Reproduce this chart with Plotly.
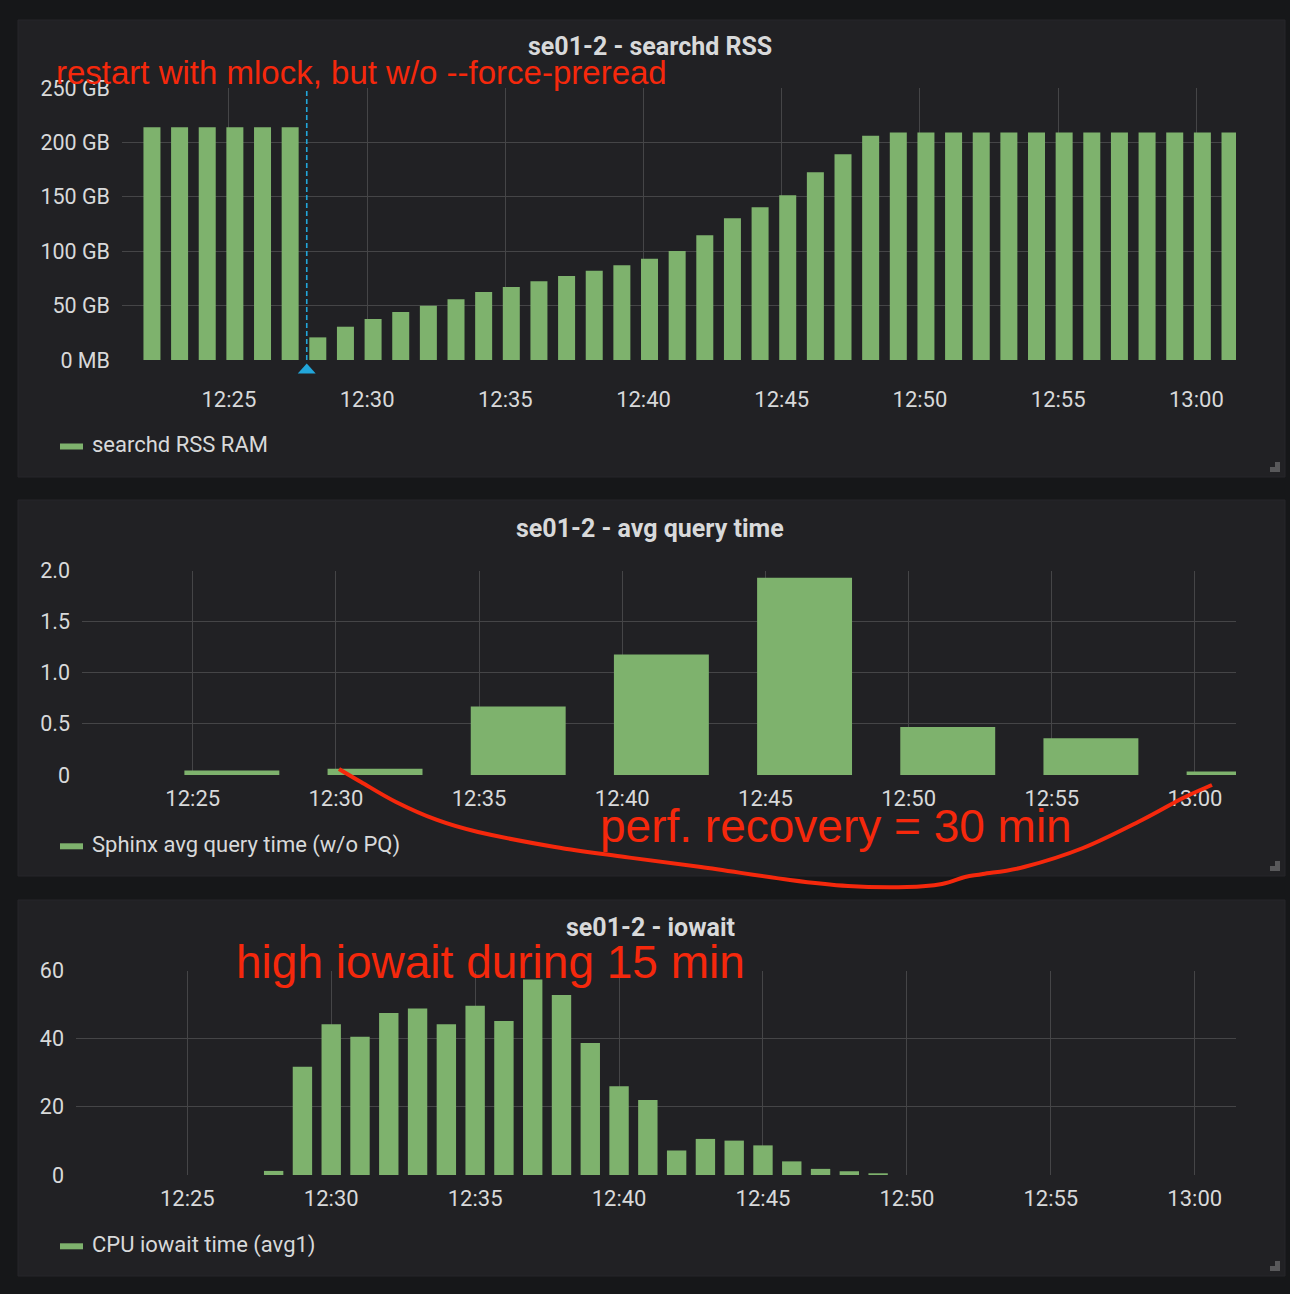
import datetime as dt
import plotly.graph_objects as go

W, H = 1290, 1294
DAY = "2018-03-01 "

# ---------------- data ----------------
RSS_TIMES = ["12:22:13", "12:23:13", "12:24:13", "12:25:13", "12:26:13", "12:27:13",
             "12:28:13", "12:29:13", "12:30:13", "12:31:13", "12:32:13", "12:33:13",
             "12:34:13", "12:35:13", "12:36:13", "12:37:13", "12:38:13", "12:39:13",
             "12:40:13", "12:41:13", "12:42:13", "12:43:13", "12:44:13", "12:45:13",
             "12:46:13", "12:47:13", "12:48:13", "12:49:13", "12:50:13", "12:51:13",
             "12:52:13", "12:53:13", "12:54:13", "12:55:13", "12:56:13", "12:57:13",
             "12:58:13", "12:59:13", "13:00:13", "13:01:13"]
RSS_GB = [214, 214, 214, 214, 214, 214,
          20.8, 30.6, 37.7, 44.1, 49.9, 55.8, 62.5, 67.1, 72.3, 77.2, 82.1, 87.0,
          93.1, 100.2, 114.6, 130.2, 140.3, 151.4, 172.5, 189.0, 206.2, 209.2,
          209.2, 209.2, 209.2, 209.2, 209.2, 209.2, 209.2, 209.2, 209.2, 209.2,
          209.2, 209.2]

QT_TIMES = ["12:26:22", "12:31:22", "12:36:22", "12:41:22", "12:46:22",
            "12:51:22", "12:56:22", "13:01:22"]
QT_SEC = [0.045, 0.06, 0.67, 1.18, 1.93, 0.47, 0.36, 0.035]

IO_TIMES = ["12:28:00", "12:29:00", "12:30:00", "12:31:00", "12:32:00", "12:33:00",
            "12:34:00", "12:35:00", "12:36:00", "12:37:00", "12:38:00", "12:39:00",
            "12:40:00", "12:41:00", "12:42:00", "12:43:00", "12:44:00", "12:45:00",
            "12:46:00", "12:47:00", "12:48:00", "12:49:00"]
IO_PCT = [1.2, 31.8, 44.3, 40.6, 47.6, 48.9, 44.3, 49.7, 45.2, 57.4, 52.9, 38.8,
          26.1, 22.0, 7.2, 10.6, 10.1, 8.7, 4.0, 1.8, 1.1, 0.5]

RESTART_TIME = "12:27:49"
X_RANGE = ["12:21:08", "13:01:26"]

RSS_TICKS = [0, 50, 100, 150, 200, 250]
RSS_TICKTEXT = ["0 MB", "50 GB", "100 GB", "150 GB", "200 GB", "250 GB"]
QT_TICKS = [0, 0.5, 1.0, 1.5, 2.0]
QT_TICKTEXT = ["0", "0.5", "1.0", "1.5", "2.0"]
IO_TICKS = [0, 20, 40, 60]
IO_TICKTEXT = ["0", "20", "40", "60"]

TITLES = ["se01-2 - searchd RSS", "se01-2 - avg query time", "se01-2 - iowait"]
LEGENDS = ["searchd RSS RAM", "Sphinx avg query time (w/o PQ)", "CPU iowait time (avg1)"]
NOTE_RESTART = "restart with mlock, but w/o --force-preread"
NOTE_PERF = "perf. recovery = 30 min"
NOTE_IO = "high iowait during 15 min"

# ---------------- style ----------------
PAGE_BG = "#161719"
PANEL_BG = "#212124"
GRID = "#454547"
TEXT = "#d8d9da"
GREEN = "#7eb26d"
BLUE = "#22a6da"
RED = "#f5280c"
FONT = "Roboto"
NOTE_FONT = "Liberation Sans, Arial, sans-serif"


def px(x):
    return x / W


def py(y):
    return 1 - y / H


fig = go.Figure()

fig.add_trace(go.Bar(x=[DAY + t for t in RSS_TIMES], y=RSS_GB, width=36900,
                     marker=dict(color=GREEN, line=dict(width=0)),
                     xaxis="x", yaxis="y", showlegend=False))
fig.add_trace(go.Bar(x=[DAY + t for t in QT_TIMES], y=QT_SEC, width=198900,
                     marker=dict(color=GREEN, line=dict(width=0)),
                     xaxis="x2", yaxis="y2", showlegend=False))
fig.add_trace(go.Bar(x=[DAY + t for t in IO_TIMES], y=IO_PCT, width=40400,
                     marker=dict(color=GREEN, line=dict(width=0)),
                     xaxis="x3", yaxis="y3", showlegend=False))

# plot-area geometry in pixels: (left, right, top, bottom)
AREAS = [(122, 1236, 88, 360), (82, 1236, 570.7, 775), (76, 1236, 970.7, 1175)]
YSPEC = [(RSS_TICKS, RSS_TICKTEXT, [0, 250]),
         (QT_TICKS, QT_TICKTEXT, [0, 2.0]),
         (IO_TICKS, IO_TICKTEXT, [0, 60])]
XSTANDOFF = [24, 8, 8]

layout = dict(width=W, height=H, margin=dict(l=0, r=0, t=0, b=0, autoexpand=False),
              paper_bgcolor=PAGE_BG, plot_bgcolor="rgba(0,0,0,0)",
              font=dict(family=FONT, color=TEXT, size=22), showlegend=False,
              barmode="overlay")

for i, ((l, r, t, b), (tv, tt, yr)) in enumerate(zip(AREAS, YSPEC)):
    sfx = "" if i == 0 else str(i + 1)
    layout["xaxis" + sfx] = dict(
        domain=[px(l), px(r)], anchor="y" + sfx, type="date",
        range=[DAY + X_RANGE[0], DAY + X_RANGE[1]],
        tick0=DAY + "12:00:00", dtick=300000, tickformat="%H:%M",
        showgrid=True, gridcolor=GRID, gridwidth=1, zeroline=False,
        showline=False, ticks="", ticklabelstandoff=XSTANDOFF[i], automargin=False,
        tickfont=dict(family=FONT, size=22, color=TEXT), fixedrange=True)
    layout["yaxis" + sfx] = dict(
        domain=[py(b), py(t)], anchor="x" + sfx, range=yr,
        tickvals=tv, ticktext=tt, showgrid=True, gridcolor=GRID, gridwidth=1,
        zeroline=False, showline=False, ticks="", ticklabelstandoff=11, automargin=False,
        tickfont=dict(family=FONT, size=21.5, color=TEXT), fixedrange=True)

fig.update_layout(**layout)

shapes = []
PANELS = [(18, 20, 1285, 477), (18, 500, 1285, 876), (18, 900, 1285, 1276)]
for (x0, y0, x1, y1) in PANELS:
    shapes.append(dict(type="rect", xref="paper", yref="paper", layer="below",
                       x0=px(x0), x1=px(x1), y0=py(y1), y1=py(y0),
                       fillcolor=PANEL_BG, line=dict(color="#27272a", width=1)))
    # resize handle
    shapes.append(dict(type="rect", xref="paper", yref="paper", layer="above",
                       x0=px(x1 - 15), x1=px(x1 - 5), y0=py(y1 - 5), y1=py(y1 - 10),
                       fillcolor="#58585a", line=dict(width=0)))
    shapes.append(dict(type="rect", xref="paper", yref="paper", layer="above",
                       x0=px(x1 - 10), x1=px(x1 - 5), y0=py(y1 - 5), y1=py(y1 - 15),
                       fillcolor="#58585a", line=dict(width=0)))

# restart annotation: dashed line + triangle marker under the axis
shapes.append(dict(type="line", xref="x", yref="y domain",
                   x0=DAY + RESTART_TIME, x1=DAY + RESTART_TIME, y0=0, y1=1,
                   line=dict(color=BLUE, width=1.6, dash="5px,3px"), layer="above"))
t_mark = dt.datetime.strptime(DAY + RESTART_TIME, "%Y-%m-%d %H:%M:%S")
half = dt.timedelta(seconds=19.5)


def dfmt(d):
    return d.strftime("%Y-%m-%d_%H:%M:%S.%f")


tri = "M %s,%.5f L %s,%.5f L %s,%.5f Z" % (
    dfmt(t_mark - half), py(373.5), dfmt(t_mark + half), py(373.5),
    dfmt(t_mark), py(363.5))
shapes.append(dict(type="path", xref="x", yref="paper", path=tri,
                   fillcolor=BLUE, line=dict(width=0), layer="above"))

# legend markers
LEG_Y = [446.5, 846.3, 1246.3]
for ly in LEG_Y:
    shapes.append(dict(type="rect", xref="paper", yref="paper",
                       x0=px(60), x1=px(83), y0=py(ly + 3), y1=py(ly - 3),
                       fillcolor=GREEN, line=dict(width=0)))

# hand-drawn red curve (pixel coordinates of the sketch)
CURVE = [(339, 769), (361, 782), (396, 802), (437, 820), (478, 832), (555, 847),
         (625, 857), (701, 867), (790, 880), (848, 886), (907, 887), (942, 884),
         (965, 877), (983, 874), (1024, 867), (1083, 848), (1142, 820),
         (1183, 798), (1212, 785)]
pts = [(px(x), py(y)) for x, y in CURVE]
path = "M %.5f,%.5f" % pts[0]
for k in range(len(pts) - 1):
    p0 = pts[k - 1] if k > 0 else pts[k]
    p1 = pts[k]
    p2 = pts[k + 1]
    p3 = pts[k + 2] if k + 2 < len(pts) else pts[k + 1]
    c1 = (p1[0] + (p2[0] - p0[0]) / 6, p1[1] + (p2[1] - p0[1]) / 6)
    c2 = (p2[0] - (p3[0] - p1[0]) / 6, p2[1] - (p3[1] - p1[1]) / 6)
    path += " C %.5f,%.5f %.5f,%.5f %.5f,%.5f" % (c1 + c2 + p2)
shapes.append(dict(type="path", xref="paper", yref="paper", path=path,
                   line=dict(color=RED, width=4), layer="above"))

fig.update_layout(shapes=shapes)

ann = []
TITLE_Y = [47, 528, 927.5]
for ttl, ty in zip(TITLES, TITLE_Y):
    ann.append(dict(text="<b>" + ttl + "</b>", xref="paper", yref="paper",
                    x=px(650), y=py(ty), xanchor="center", yanchor="middle",
                    showarrow=False, font=dict(family=FONT, size=25, color=TEXT)))
for lt, ly in zip(LEGENDS, [444, 845, 1245]):
    ann.append(dict(text=lt, xref="paper", yref="paper", x=px(90), y=py(ly),
                    xanchor="left", yanchor="middle", showarrow=False,
                    font=dict(family=FONT, size=22, color=TEXT)))

ann.append(dict(text=NOTE_RESTART, xref="paper", yref="paper", x=px(54), y=py(72),
                xanchor="left", yanchor="middle", showarrow=False,
                font=dict(family=NOTE_FONT, size=33, color=RED)))
ann.append(dict(text=NOTE_PERF, xref="paper", yref="paper", x=px(598), y=py(826),
                xanchor="left", yanchor="middle", showarrow=False,
                font=dict(family=NOTE_FONT, size=46, color=RED)))
ann.append(dict(text=NOTE_IO, xref="paper", yref="paper", x=px(234), y=py(962),
                xanchor="left", yanchor="middle", showarrow=False,
                font=dict(family=NOTE_FONT, size=46, color=RED)))
fig.update_layout(annotations=ann)

fig.write_html("out.html",
               config={"displayModeBar": False, "staticPlot": True},
               post_script="document.body.style.margin='0px';"
                           "document.body.style.padding='0px';"
                           "document.body.style.overflow='hidden';"
                           "document.body.style.background='#161719';")
